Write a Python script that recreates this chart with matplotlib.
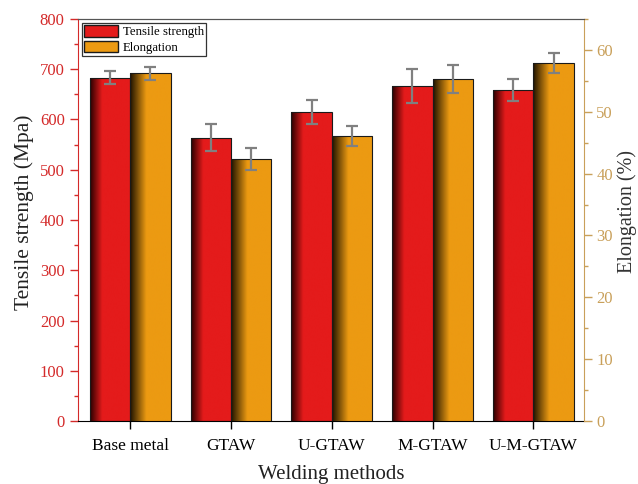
import numpy as np
import matplotlib.pyplot as plt
from matplotlib.colors import LinearSegmentedColormap
from matplotlib.patches import Patch
from matplotlib.ticker import MultipleLocator

# data
methods = ['Base metal', 'GTAW', 'U-GTAW', 'M-GTAW', 'U-M-GTAW']
tensile = [683, 564, 614, 666, 658]
tensile_err = [13, 26, 24, 34, 22]
elong = [56.2, 42.3, 46.1, 55.3, 57.9]
elong_err = [1.1, 1.8, 1.6, 2.3, 1.6]

plt.rcParams['font.family'] = ['Liberation Serif', 'DejaVu Serif']

red_c = '#e41b1b'
orange_c = '#ec9a12'
left_c = '#d42a2a'
right_c = '#c9a05a'

red_map = LinearSegmentedColormap.from_list(
    'redgrad', [(0, '#2a0000'), (0.3, red_c), (1, red_c)])
orange_map = LinearSegmentedColormap.from_list(
    'orggrad', [(0, '#1e1200'), (0.4, orange_c), (1, orange_c)])


def gradient_bars(ax, bars, cmap):
    # fill each bar with a left-to-right shade
    grad = np.linspace(0, 1, 256).reshape(1, -1)
    for b in bars:
        x0, y0 = b.get_x(), b.get_y()
        im = ax.imshow(grad, cmap=cmap, aspect='auto', interpolation='bilinear',
                       extent=(x0, x0 + b.get_width(), y0, y0 + b.get_height()),
                       zorder=1.9)
        im.set_clip_path(b)
        b.set_facecolor('none')


fig = plt.figure(figsize=(6.38, 4.84), dpi=100)
ax1 = fig.add_axes([0.122, 0.130, 0.793, 0.831])
ax2 = ax1.twinx()

x = np.arange(len(methods))
w = 0.4

err_kw = dict(ecolor='#808080', elinewidth=1.6, capsize=4, capthick=1.6)
bars1 = ax1.bar(x - w / 2, tensile, w, yerr=tensile_err, edgecolor='#1a1a1a',
                linewidth=0.8, error_kw=err_kw, zorder=2)
bars2 = ax2.bar(x + w / 2, elong, w, yerr=elong_err, edgecolor='#1a1a1a',
                linewidth=0.8, error_kw=err_kw, zorder=2)
gradient_bars(ax1, bars1, red_map)
gradient_bars(ax2, bars2, orange_map)

ax1.set_xlim(-0.52, 4.5)
ax1.set_ylim(0, 800)
ax2.set_ylim(0, 65)

ax1.set_xticks(x)
ax1.set_xticklabels(methods, fontsize=12.5)
ax1.yaxis.set_major_locator(MultipleLocator(100))
ax1.yaxis.set_minor_locator(MultipleLocator(50))
ax2.yaxis.set_major_locator(MultipleLocator(10))
ax2.yaxis.set_minor_locator(MultipleLocator(5))

ax1.tick_params(axis='x', direction='out', length=6, width=1, pad=6)
ax1.tick_params(axis='y', which='major', direction='out', length=6, width=1,
                colors=left_c, labelsize=12)
ax1.tick_params(axis='y', which='minor', direction='out', length=3, width=1,
                colors=left_c)
ax2.tick_params(axis='y', which='major', direction='out', length=6, width=1,
                colors=right_c, labelsize=12, pad=3)
ax2.tick_params(axis='y', which='minor', direction='out', length=3, width=1,
                colors=right_c)

ax1.spines['left'].set_color(left_c)
ax1.spines['right'].set_visible(False)
ax1.spines['top'].set_color('#555555')
ax2.spines['left'].set_visible(False)
ax2.spines['bottom'].set_visible(False)
ax2.spines['right'].set_color(right_c)
ax2.spines['top'].set_color('#555555')

ax1.set_xlabel('Welding methods', fontsize=15, color='#222222', labelpad=8)
ax1.set_ylabel('Tensile strength (Mpa)', fontsize=15.5, color='#222222',
               labelpad=4)
ax2.set_ylabel('Elongation (%)', fontsize=14.5, color='#333333', labelpad=3)
ax1.yaxis.label.set_y(0.52)
ax2.yaxis.label.set_y(0.52)

handles = [Patch(facecolor=red_c, edgecolor='#1a1a1a', label='Tensile strength'),
           Patch(facecolor=orange_c, edgecolor='#1a1a1a', label='Elongation')]
leg = ax2.legend(handles=handles, loc='upper left', fontsize=9.2,
                 bbox_to_anchor=(0.003, 0.997), fancybox=False, framealpha=1,
                 edgecolor='#333333', handlelength=2.6, handleheight=1.0,
                 borderpad=0.2, labelspacing=0.2, handletextpad=0.4,
                 borderaxespad=0.2)
leg.get_frame().set_linewidth(0.9)

fig.savefig('out.png', dpi=100)
